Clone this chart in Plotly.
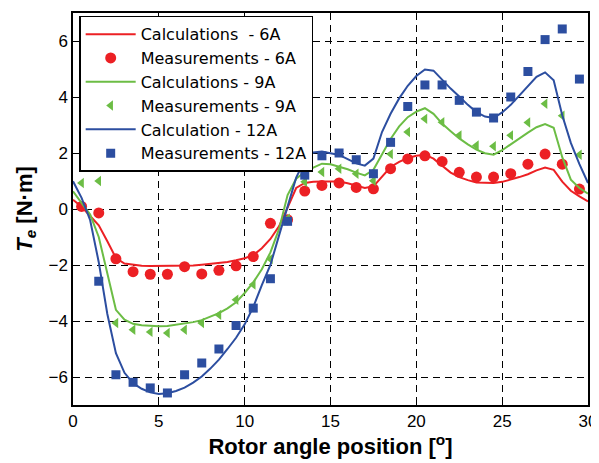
import plotly.graph_objects as go

# calculated torque curves, sampled every 0.5 degree
calc_angle = [i * 0.5 for i in range(61)]
calc_6a = [0.33, 0.08, -0.25, -0.58, -1.15, -1.75, -1.95, -2.0, -2.03, -2.04,
           -2.04, -2.04, -2.04, -2.03, -2.02, -1.99, -1.96, -1.93, -1.89, -1.83,
           -1.76, -1.65, -1.40, -1.07, -0.62, 0.05, 0.75, 0.93, 0.97, 0.98,
           0.98, 0.98, 0.92, 0.83, 0.75, 0.81, 1.15, 1.50, 1.68, 1.82,
           1.90, 1.94, 1.80, 1.55, 1.30, 1.14, 1.03, 0.95, 0.93, 0.93,
           0.97, 1.05, 1.14, 1.24, 1.38, 1.48, 1.40, 0.98, 0.65, 0.45, 0.27]
calc_9a = [0.63, 0.22, -0.2, -1.0, -2.35, -3.6, -3.95, -4.1, -4.15, -4.18,
           -4.19, -4.18, -4.14, -4.09, -4.04, -3.97, -3.85, -3.72, -3.55, -3.33,
           -3.0, -2.62, -2.15, -1.55, -0.72, 0.5, 1.08, 1.32, 1.48, 1.62,
           1.60, 1.52, 1.42, 1.30, 1.20, 1.40, 1.95, 2.5, 2.95, 3.28,
           3.48, 3.60, 3.40, 3.05, 2.78, 2.52, 2.31, 2.12, 1.99, 1.94,
           2.1, 2.32, 2.52, 2.73, 2.92, 3.03, 2.9, 1.85, 1.05, 0.75, 0.55]
calc_12a = [0.99, 0.4, -0.4, -1.9, -3.75, -5.15, -5.85, -6.22, -6.42, -6.55,
            -6.61, -6.58, -6.5, -6.38, -6.2, -5.98, -5.7, -5.38, -5.0, -4.6,
            -4.12, -3.5, -2.72, -2.0, -0.95, 0.1, 1.12, 1.75, 2.02, 2.05,
            2.0, 1.93, 1.78, 1.63, 1.55, 1.80, 2.75, 3.4, 3.95, 4.4,
            4.75, 4.98, 4.94, 4.62, 4.3, 4.02, 3.72, 3.46, 3.3, 3.25,
            3.45, 3.72, 4.05, 4.4, 4.72, 4.88, 4.6, 3.35, 2.36, 1.6, 0.93]

# measurements at half-degree positions
meas_angle = [i + 0.5 for i in range(30)]
meas_6a = [0.09, -0.14, -1.78, -2.24, -2.33, -2.33, -2.06, -2.32, -2.19, -2.03,
           -1.70, -0.51, -0.38, 0.64, 0.84, 0.93, 0.77, 0.72, 1.44, 1.79,
           1.90, 1.70, 1.31, 1.14, 1.14, 1.26, 1.60, 1.96, 1.60, 0.71]
meas_9a = [0.93, 1.0, -4.07, -4.31, -4.39, -4.43, -4.31, -4.07, -3.78, -3.24,
           -2.70, -1.79, -0.35, 0.97, 1.32, 1.44, 1.26, 1.01, 1.96, 2.75,
           3.22, 3.10, 2.63, 2.27, 2.24, 2.63, 3.09, 3.76, 3.33, 1.94]
meas_12a_angle = meas_angle[1:]
meas_12a = [-2.58, -5.92, -6.19, -6.39, -6.57, -5.92, -5.5, -5.0, -4.16,
            -3.54, -2.49, -0.44, 1.21, 1.90, 2.0, 1.76, 1.26, 2.38, 3.66,
            4.43, 4.43, 3.88, 3.46, 3.25, 4.0, 4.91, 6.05, 6.43, 4.64]

red = 'rgb(236,32,36)'
green = 'rgb(108,189,69)'
blue = 'rgb(44,78,160)'

fig = go.Figure()
fig.add_trace(go.Scatter(x=calc_angle, y=calc_6a, mode='lines', name='Calculations  - 6A',
                         line=dict(color=red, width=2)))
fig.add_trace(go.Scatter(x=meas_angle, y=meas_6a, mode='markers', name='Measurements - 6A',
                         marker=dict(color=red, size=11, symbol='circle')))
fig.add_trace(go.Scatter(x=calc_angle, y=calc_9a, mode='lines', name='Calculations - 9A',
                         line=dict(color=green, width=2)))
fig.add_trace(go.Scatter(x=meas_angle, y=meas_9a, mode='markers', name='Measurements - 9A',
                         marker=dict(color=green, size=9, symbol='triangle-left')))
fig.add_trace(go.Scatter(x=calc_angle, y=calc_12a, mode='lines', name='Calculation - 12A',
                         line=dict(color=blue, width=2)))
fig.add_trace(go.Scatter(x=meas_12a_angle, y=meas_12a, mode='markers', name='Measurements - 12A',
                         marker=dict(color=blue, size=9, symbol='square')))

axis_common = dict(
    showline=True, linecolor='black', linewidth=1.5, mirror=True,
    showgrid=True, gridcolor='black', gridwidth=1, griddash='7px,5px',
    zeroline=False, ticks='inside', ticklen=4, tickcolor='black',
    tickfont=dict(family='Arial', size=17, color='black'),
    automargin=False,
)

# the page body adds an 8px offset, so the figure is a bit smaller than the window
fig.update_layout(
    width=591, height=455,
    margin=dict(l=65, r=11, t=5, b=58),
    paper_bgcolor='white', plot_bgcolor='white',
    font=dict(family='Arial', color='black'),
    showlegend=True,
    legend=dict(
        x=0.012, y=0.993, xanchor='left', yanchor='top',
        bgcolor='white', bordercolor='black', borderwidth=1.5,
        font=dict(family='DejaVu Sans', size=16, color='black'),
        tracegroupgap=0, itemwidth=50,
    ),
    xaxis=dict(range=[0, 30], dtick=5,
               title=dict(text='<b>Rotor angle position [<sup>o</sup>]</b>',
                          font=dict(family='Arial', size=22), standoff=4),
               **axis_common),
    yaxis=dict(range=[-7, 7], dtick=2,
               title=dict(text='<b><i>T</i><sub><i>e</i></sub> [N·m]</b>',
                          font=dict(family='Arial', size=22), standoff=10),
               **axis_common),
)

fig.write_html("out.html")
